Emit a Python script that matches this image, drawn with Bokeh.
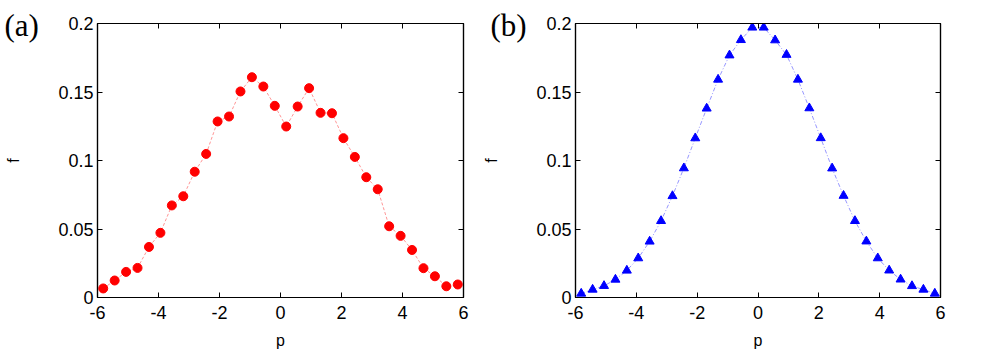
from bokeh.plotting import figure
from bokeh.layouts import row
from bokeh.models import LinearAxis, FixedTicker, Range1d
from bokeh.embed import file_html
from bokeh.resources import INLINE

# bin centres (p)
p_vals = [-5.8125, -5.4375, -5.0625, -4.6875, -4.3125, -3.9375, -3.5625, -3.1875,
          -2.8125, -2.4375, -2.0625, -1.6875, -1.3125, -0.9375, -0.5625, -0.1875,
          0.1875, 0.5625, 0.9375, 1.3125, 1.6875, 2.0625, 2.4375, 2.8125,
          3.1875, 3.5625, 3.9375, 4.3125, 4.6875, 5.0625, 5.4375, 5.8125]

# panel (a) values
f_a = [0.0066, 0.0124, 0.0187, 0.0216, 0.0369, 0.0472, 0.0672, 0.0739,
       0.0918, 0.1048, 0.1285, 0.1321, 0.1504, 0.1608, 0.1540, 0.1399,
       0.1248, 0.1394, 0.1528, 0.1348, 0.1345, 0.1163, 0.1026, 0.0878,
       0.0790, 0.0520, 0.0450, 0.0347, 0.0214, 0.0155, 0.0082, 0.0095]

# panel (b) values
f_b = [0.0029, 0.0058, 0.0085, 0.0131, 0.0197, 0.0287, 0.0409, 0.0559,
       0.0741, 0.0944, 0.1163, 0.1380, 0.1591, 0.1768, 0.1880, 0.1971,
       0.1971, 0.1878, 0.1772, 0.1591, 0.1382, 0.1164, 0.0943, 0.0743,
       0.0559, 0.0410, 0.0287, 0.0198, 0.0132, 0.0084, 0.0058, 0.0029]

x_ticks = [-6, -4, -2, 0, 2, 4, 6]
x_tick_labels = {-6: "-6", -4: "-4", -2: "-2", 0: "0", 2: "2", 4: "4", 6: "6"}
y_ticks = [0, 0.05, 0.1, 0.15, 0.2]
y_tick_labels = {0: "0", 0.05: "0.05", 0.1: "0.1", 0.15: "0.15", 0.2: "0.2"}
panel_tags = ["(a)", "(b)"]

FONT = "Liberation Sans"


def style_axis(ax, ticks, show_labels):
    ax.ticker = FixedTicker(ticks=ticks)
    ax.axis_line_color = "black"
    ax.axis_line_width = 1.2
    ax.major_tick_in = 5
    ax.major_tick_out = 0
    ax.major_tick_line_color = "black"
    ax.minor_tick_line_color = None
    ax.major_label_text_font = FONT
    if show_labels:
        ax.major_label_text_font_size = "18px"
        ax.major_label_text_color = "black"
    else:
        ax.major_label_text_font_size = "1px"
        ax.major_label_text_color = None
        ax.major_label_standoff = 0


def make_panel(width, bl, br, tag, tag_offset):
    p = figure(width=width, height=355, output_backend="svg", toolbar_location=None,
               x_range=Range1d(-6, 6), y_range=Range1d(0, 0.2),
               min_border_left=bl, min_border_right=br, min_border_top=23,
               min_border_bottom=58, x_axis_label="p", y_axis_label="f")
    p.grid.visible = False
    p.outline_line_color = "black"
    p.outline_line_width = 1.2
    style_axis(p.xaxis[0], x_ticks, True)
    style_axis(p.yaxis[0], y_ticks, True)
    p.xaxis[0].major_label_overrides = x_tick_labels
    p.yaxis[0].major_label_overrides = y_tick_labels
    p.xaxis[0].major_label_standoff = 8
    p.yaxis[0].major_label_standoff = 4
    for ax in (p.xaxis[0], p.yaxis[0]):
        ax.axis_label_text_font = FONT
        ax.axis_label_text_font_size = "16px"
        ax.axis_label_text_font_style = "normal"
        ax.axis_label_text_color = "black"
    p.xaxis[0].axis_label_standoff = 10
    p.yaxis[0].axis_label_standoff = 33
    top = LinearAxis()
    style_axis(top, x_ticks, False)
    right = LinearAxis()
    style_axis(right, y_ticks, False)
    p.add_layout(top, "above")
    p.add_layout(right, "right")
    # panel tag drawn as the plot title, shifted left beside the frame;
    # a leading empty line with a small line height nudges it down
    p.title.text = "\n" + tag
    p.title.align = "left"
    p.title.vertical_align = "top"
    p.title.offset = tag_offset
    p.title.standoff = -44
    p.title.text_font = "Liberation Serif"
    p.title.text_font_size = "31px"
    p.title.text_font_style = "normal"
    p.title.text_color = "black"
    p.title.text_line_height = 0.33
    return p


pa = make_panel(480, 97, 17, panel_tags[0], -93)
pa.line(p_vals, f_a, line_color="red", line_width=0.7, line_alpha=0.6, line_dash="3 2")
pa.scatter(p_vals, f_a, marker="circle", size=9, fill_color="red", line_color="red")

pb = make_panel(501, 95, 41, panel_tags[1], -85)
pb.line(p_vals, f_b, line_color="blue", line_width=0.7, line_alpha=0.6, line_dash="4 2 1 2")
pb.scatter(p_vals, f_b, marker="triangle", size=9, fill_color="blue", line_color="blue")

layout = row(pa, pb)
open("out.html", "w").write(file_html(layout, INLINE))
